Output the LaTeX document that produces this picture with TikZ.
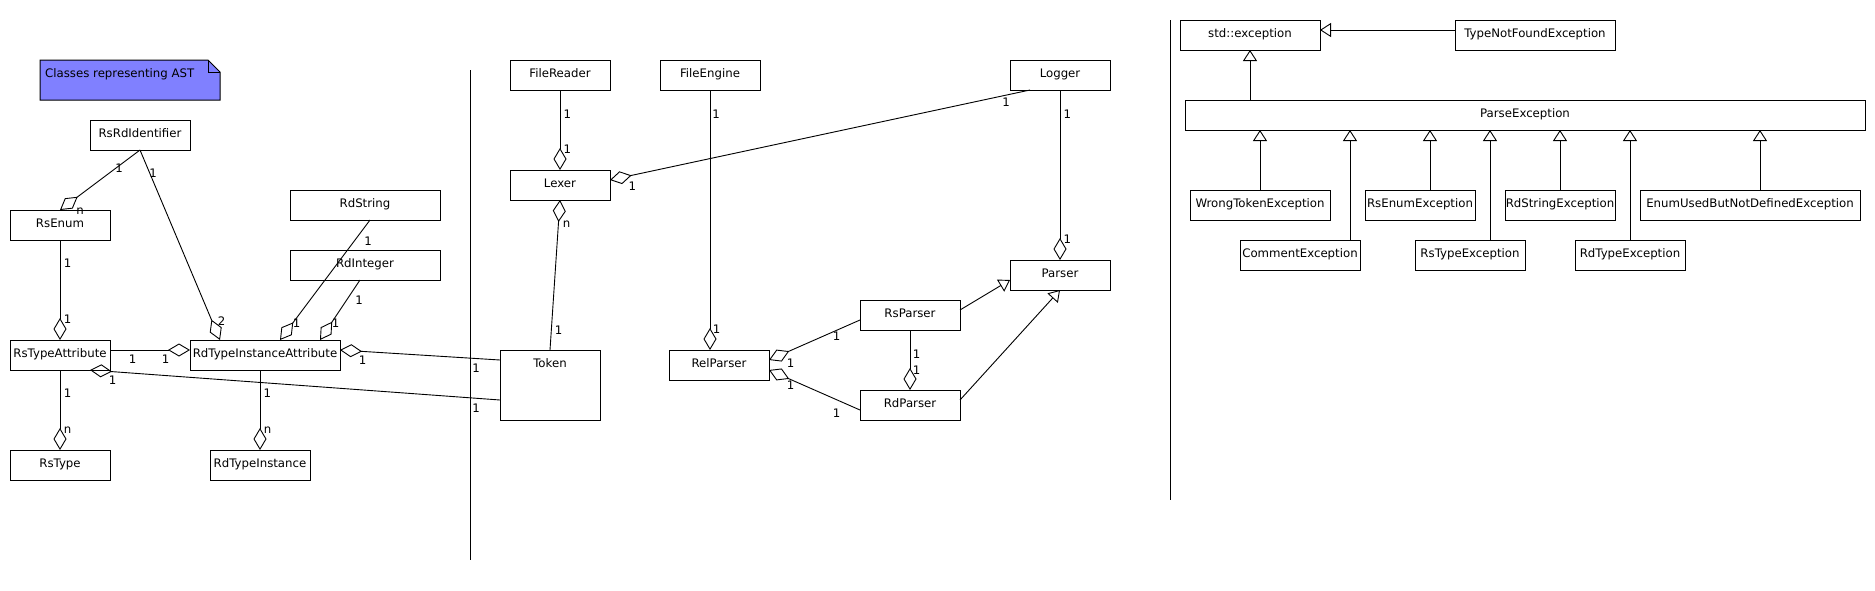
\documentclass[tikz,border=0pt]{standalone}
\usepackage{fontspec}
\setmainfont{DejaVu Sans}
\usetikzlibrary{arrows.meta}
\newcommand\umlbox[6]{%
  \node[cls, minimum width={#4-#2}, minimum height={#5-#3},
        label={[ttl]north:#6}] (#1) at ({(#2+#4)/2},{(#3+#5)/2}) {};}
\tikzset{
  cls/.style={draw, rectangle, inner sep=0pt, outer sep=0pt, line width=1pt},
  ttl/.style={anchor=base, yshift=-17.5pt, inner sep=0pt},
  lbl/.style={anchor=base, inner sep=0pt},
  conn/.style={line width=0.9pt},
  agg/.style={conn, -{Diamond[open,length=22pt,width=13pt]}},
  gen/.style={conn, -{Triangle[open,length=11pt,width=14pt]}},
}
\begin{document}
\begin{tikzpicture}[x=1pt, y=-1pt, font=\fontsize{11.75}{14}\selectfont]
\useasboundingbox (0,0) rectangle (1875,590);

% note
\filldraw[fill={rgb,255:red,128;green,128;blue,255}, line width=1pt]
  (40,60) -- (208,60) -- (220,72) -- (220,100) -- (40,100) -- cycle;
\draw[line width=1pt] (208,60) -- (208,72) -- (220,72);
\node[lbl, anchor=base west] (note) at (45,77.5) {Classes representing AST};

% separators
\draw[line width=1pt] (470,70) coordinate (s1a) -- (470,560) coordinate (s1b);
\draw[line width=1pt] (1170,20) coordinate (s2a) -- (1170,500) coordinate (s2b);

% AST classes
\umlbox{RsRdId}{90}{120}{190}{150}{RsRdIdentifier}
\umlbox{RsEnum}{10}{210}{110}{240}{RsEnum}
\umlbox{RdString}{290}{190}{440}{220}{RdString}
\umlbox{RdInteger}{290}{250}{440}{280}{RdInteger}
\umlbox{RsTA}{10}{340}{110}{370}{RsTypeAttribute}
\umlbox{RdTIA}{190}{340}{340}{370}{RdTypeInstanceAttribute}
\umlbox{RsType}{10}{450}{110}{480}{RsType}
\umlbox{RdTI}{210}{450}{310}{480}{RdTypeInstance}

% middle
\umlbox{Token}{500}{350}{600}{420}{Token}
\umlbox{FileReader}{510}{60}{610}{90}{FileReader}
\umlbox{Lexer}{510}{170}{610}{200}{Lexer}
\umlbox{FileEngine}{660}{60}{760}{90}{FileEngine}
\umlbox{Logger}{1010}{60}{1110}{90}{Logger}
\umlbox{Parser}{1010}{260}{1110}{290}{Parser}
\umlbox{RsParser}{860}{300}{960}{330}{RsParser}
\umlbox{RdParser}{860}{390}{960}{420}{RdParser}
\umlbox{RelParser}{669}{350}{769}{380}{RelParser}

% exceptions
\umlbox{StdExc}{1180}{20}{1320}{50}{std::exception}
\umlbox{TNF}{1455}{20}{1615}{50}{TypeNotFoundException}
\umlbox{PE}{1185}{100}{1865}{130}{ParseException}
\umlbox{WTE}{1190}{190}{1330}{220}{WrongTokenException}
\umlbox{CE}{1240}{240}{1360}{270}{CommentException}
\umlbox{REE}{1365}{190}{1475}{220}{RsEnumException}
\umlbox{RTE}{1415}{240}{1525}{270}{RsTypeException}
\umlbox{RSE}{1505}{190}{1615}{220}{RdStringException}
\umlbox{DTE}{1575}{240}{1685}{270}{RdTypeException}
\umlbox{EUE}{1640}{190}{1860}{220}{EnumUsedButNotDefinedException}

% AST connectors
\draw[agg] (RsRdId.south) -- (RsEnum.north);
\draw[agg] (RsRdId.south) -- ([xshift=-45pt]RdTIA.north);
\draw[agg] ([xshift=5pt]RdString.south) -- ([xshift=15pt]RdTIA.north);
\draw[agg] ([xshift=-5pt]RdInteger.south) -- ([xshift=55pt]RdTIA.north);
\draw[agg] (RsEnum.south) -- (RsTA.north);
\draw[agg] (RsTA.south) -- (RsType.north);
\draw[agg] ([yshift=5pt]RsTA.east) -- ([yshift=5pt]RdTIA.west);
\draw[agg] ([xshift=-5pt]RdTIA.south) -- (RdTI.north);
\draw[agg] ([yshift=25pt]Token.west) -- ([yshift=5pt]RdTIA.east);
\draw[agg] ([yshift=-15pt]Token.west) -- ([xshift=30pt]RsTA.south);

% middle connectors
\draw[agg] (Token.north) -- (Lexer.south);
\draw[agg] (FileReader.south) -- (Lexer.north);
\draw[agg] ([xshift=-30pt]Logger.south) -- ([yshift=5pt]Lexer.east);
\draw[agg] (FileEngine.south) -- ([xshift=-9pt]RelParser.north);
\draw[agg] ([yshift=-5pt]RsParser.west) -- ([yshift=5pt]RelParser.east);
\draw[agg] ([yshift=-5pt]RdParser.west) -- ([yshift=-5pt]RelParser.east);
\draw[agg] (RsParser.south) -- (RdParser.north);
\draw[agg] (Logger.south) -- (Parser.north);
\draw[gen] ([yshift=5pt]RsParser.east) -- ([yshift=-5pt]Parser.west);
\draw[gen] ([yshift=5pt]RdParser.east) -- (Parser.south);

% exception connectors
\draw[gen] ([yshift=5pt]TNF.west) -- ([yshift=5pt]StdExc.east);
\draw[gen] ([xshift=-275pt]PE.north) -- (StdExc.south);
\coordinate (wte) at (WTE.north);
\coordinate (ce) at ([xshift=50pt]CE.north);
\coordinate (ree) at ([xshift=10pt]REE.north);
\coordinate (rte) at ([xshift=20pt]RTE.north);
\coordinate (rse) at (RSE.north);
\coordinate (dte) at (DTE.north);
\coordinate (eue) at ([xshift=10pt]EUE.north);
\foreach \c in {wte,ce,ree,rte,rse,dte,eue}
  \draw[gen] (\c) -- (\c |- PE.south);

% multiplicities
\node[lbl] (l1) at (119,172) {1};
\node[lbl] (l2) at (80,214) {n};
\node[lbl] (l3) at (153,177) {1};
\node[lbl] (l4) at (221.7,325) {2};
\node[lbl] (l5) at (368,245) {1};
\node[lbl] (l6) at (296.7,327) {1};
\node[lbl] (l7) at (359,304.6) {1};
\node[lbl] (l8) at (335.7,327.6) {1};
\node[lbl] (l9) at (67.7,267.6) {1};
\node[lbl] (l10) at (67.7,323.6) {1};
\node[lbl] (l11) at (67.7,397.6) {1};
\node[lbl] (l12) at (67.7,433.2) {n};
\node[lbl] (l13) at (132.7,363) {1};
\node[lbl] (l14) at (165.7,363) {1};
\node[lbl] (l15) at (267.3,397.6) {1};
\node[lbl] (l16) at (267.7,433.2) {n};
\node[lbl] (l17) at (362.7,364.3) {1};
\node[lbl] (l18) at (476,372.6) {1};
\node[lbl] (l19) at (112.7,384.3) {1};
\node[lbl] (l20) at (476,412.6) {1};
\node[lbl] (l21) at (566.7,227.5) {n};
\node[lbl] (l22) at (558.7,334.3) {1};
\node[lbl] (l23) at (567.3,118) {1};
\node[lbl] (l24) at (567.3,153.6) {1};
\node[lbl] (l25) at (632.3,190) {1};
\node[lbl] (l26) at (1006,106) {1};
\node[lbl] (l27) at (716,118) {1};
\node[lbl] (l28) at (716.7,333.6) {1};
\node[lbl] (l29) at (790.7,367) {1};
\node[lbl] (l30) at (836.7,340) {1};
\node[lbl] (l31) at (790.7,389.6) {1};
\node[lbl] (l32) at (836.7,417) {1};
\node[lbl] (l33) at (916.7,358.6) {1};
\node[lbl] (l34) at (916.7,374.3) {1};
\node[lbl] (l35) at (1067.3,118) {1};
\node[lbl] (l36) at (1067.3,243.6) {1};
\end{tikzpicture}
\end{document}
